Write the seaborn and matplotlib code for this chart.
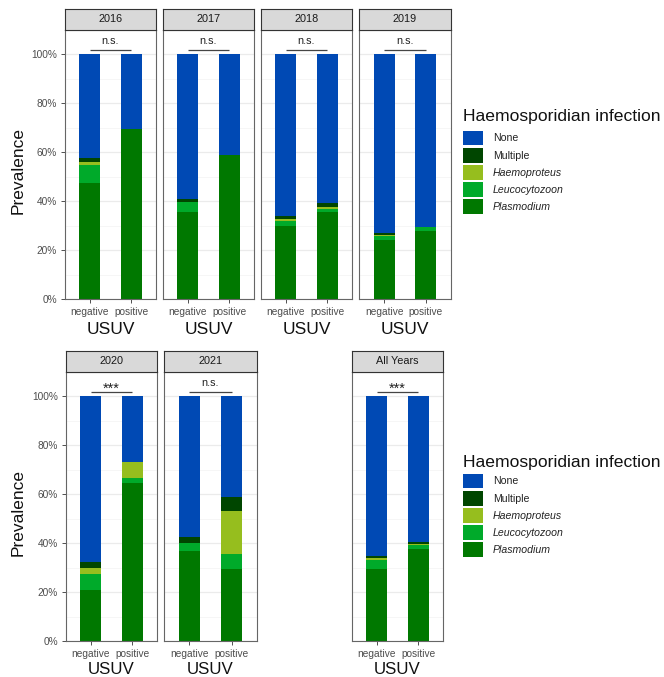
import matplotlib
matplotlib.use("Agg")
import matplotlib.pyplot as plt
from matplotlib.patches import Patch
import seaborn as sns
import pandas as pd

sns.set_theme(style="white")
plt.rcParams['font.family'] = ['Liberation Sans', 'DejaVu Sans']

# values, percent of birds per USUV status
panels = ["2016", "2017", "2018", "2019", "2020", "2021", "All Years"]
usuv = ["negative", "positive"]
infections = ["None", "Multiple", "Haemoproteus", "Leucocytozoon", "Plasmodium"]
significance = ["n.s.", "n.s.", "n.s.", "n.s.", "***", "n.s.", "***"]

plasmodium_neg = [47.5, 35.6, 30.0, 24.0, 21.0, 36.6, 29.4]
plasmodium_pos = [69.7, 58.7, 35.6, 28.0, 64.5, 29.5, 37.7]
leucocytozoon_neg = [7.2, 4.1, 1.8, 1.6, 6.6, 3.5, 3.6]
leucocytozoon_pos = [0.0, 0.0, 1.2, 1.6, 2.3, 5.9, 1.5]
haemoproteus_neg = [1.3, 0.0, 1.1, 0.7, 2.3, 0.0, 0.8]
haemoproteus_pos = [0.0, 0.0, 1.0, 0.0, 6.5, 17.7, 0.5]
multiple_neg = [1.6, 1.0, 1.2, 0.8, 2.5, 2.5, 1.0]
multiple_pos = [0.0, 0.0, 1.4, 0.0, 0.0, 5.8, 0.9]

colors = {"None": "#0049B4", "Multiple": "#004600", "Haemoproteus": "#96BE1E",
          "Leucocytozoon": "#00AA2A", "Plasmodium": "#007800"}

neg = {"Plasmodium": plasmodium_neg, "Leucocytozoon": leucocytozoon_neg,
       "Haemoproteus": haemoproteus_neg, "Multiple": multiple_neg}
pos = {"Plasmodium": plasmodium_pos, "Leucocytozoon": leucocytozoon_pos,
       "Haemoproteus": haemoproteus_pos, "Multiple": multiple_pos}

# long table with cumulative heights, Plasmodium at the bottom
rows = []
for i, p in enumerate(panels):
    for s, d in (("negative", neg), ("positive", pos)):
        parts = {k: d[k][i] for k in infections[::-1][:-1]}
        parts["None"] = 100 - sum(parts.values())
        running = 0
        for k in infections[::-1]:
            running += parts[k]
            rows.append(dict(panel=p, USUV=s, infection=k, value=parts[k], cum=running))
df = pd.DataFrame(rows)

W, H = 664, 677
fig = plt.figure(figsize=(W / 100, H / 100), dpi=100)


def px(l, t, w, h):
    return [l / W, 1 - (t + h) / H, w / W, h / H]


# left, top, width, height of the plot area in pixels
layout = {"2016": (65, 30, 91, 269), "2017": (163, 30, 91, 269),
          "2018": (261, 30, 91, 269), "2019": (359, 30, 92, 269),
          "2020": (66, 372, 91, 269), "2021": (164, 372, 93, 269),
          "All Years": (352, 372, 91, 269)}
left_panels = ["2016", "2020"]

for i, p in enumerate(panels):
    l, t, w, h = layout[p]
    ax = fig.add_axes(px(l, t, w, h))
    sub = df[df.panel == p]
    for k in infections:
        sns.barplot(data=sub[sub.infection == k], x="USUV", y="cum", order=usuv,
                    color=colors[k], saturation=1, width=0.5, errorbar=None,
                    linewidth=0, ax=ax)
    ax.set_xlim(-0.6, 1.6)
    ax.set_ylim(0, 110)
    ax.set_yticks([0, 20, 40, 60, 80, 100])
    ax.set_yticks([10, 30, 50, 70, 90], minor=True)
    ax.set_yticklabels([f"{v}%" for v in [0, 20, 40, 60, 80, 100]])
    ax.grid(which="major", axis="y", color="#EBEBEB", lw=0.9)
    ax.grid(which="minor", axis="y", color="#F3F3F3", lw=0.5)
    ax.set_axisbelow(True)
    for sp in ax.spines.values():
        sp.set_color("#666666")
        sp.set_linewidth(0.8)
    ax.tick_params(axis="both", which="major", length=3, width=0.6, color="#333333",
                   labelsize=7.3, labelcolor="#4D4D4D", pad=2.8, bottom=True, left=True)
    ax.tick_params(which="minor", length=0)
    if p not in left_panels:
        ax.tick_params(axis="y", left=False, labelleft=False)
    ax.set_ylabel("")
    ax.set_xlabel("USUV", fontsize=12.5 if t < 100 else 12.2,
                  labelpad=3.2 if t < 100 else 2.0, color="#111111")

    # significance bracket
    ax.plot([0, 1], [101.8, 101.8], color="#444444", lw=0.9, solid_capstyle="butt")
    if significance[i] == "n.s.":
        ax.text(0.5, 104.1, "n.s.", ha="center", va="baseline", fontsize=7.8,
                color="#222222")
    else:
        ax.text(0.5, 101.6, significance[i], ha="center", va="baseline", fontsize=10.5,
                color="#222222")

    # facet strip
    sax = fig.add_axes(px(l, t - 21, w, 21))
    sax.set_facecolor("#D9D9D9")
    sax.set_xticks([])
    sax.set_yticks([])
    for sp in sax.spines.values():
        sp.set_color("#333333")
        sp.set_linewidth(0.8)
    sax.text(0.5, 0.5, p, ha="center", va="center", fontsize=7.8, color="#1A1A1A",
             transform=sax.transAxes)

for yc in (171, 513):
    fig.text(18 / W, 1 - yc / H, "Prevalence", rotation=90, ha="center", va="center",
             fontsize=12.5, color="#111111")

handles = [Patch(facecolor=colors[k], edgecolor="none", label=k) for k in infections]
for title_y, key_top in ((116, 130.5), (462, 473.5)):
    fig.text(463 / W, 1 - title_y / H, "Haemosporidian infection", ha="left", va="center",
             fontsize=12.6, color="#111111")
    leg = fig.legend(handles=handles, loc="upper left",
                     bbox_to_anchor=(463 / W, 1 - key_top / H), frameon=False,
                     fontsize=7.6, handlelength=1.9, handleheight=1.8,
                     labelspacing=0.21, handletextpad=0.95, borderpad=0,
                     borderaxespad=0)
    for txt in leg.get_texts():
        txt.set_color("#222222")
    for txt in leg.get_texts()[2:]:
        txt.set_style("italic")

fig.savefig("out.png", dpi=100)
